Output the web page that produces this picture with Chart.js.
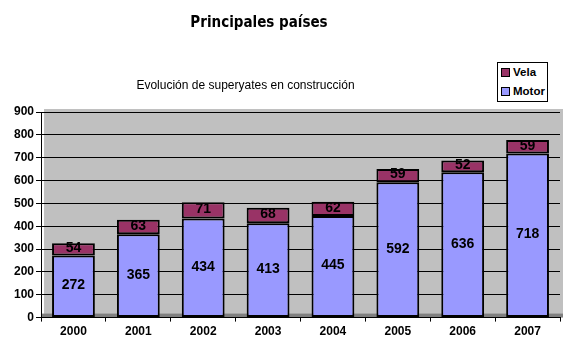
<!DOCTYPE html>
<html>
<head>
<meta charset="utf-8">
<script src="https://cdn.jsdelivr.net/npm/chart.js@4.4.0/dist/chart.umd.min.js"></script>
<style>
    body { margin: 0; background: #fff; }
    #wrap { position: relative; width: 577px; height: 352px; }
    #titulo { position: absolute; left: 0; top: 13px; width: 518px; text-align: center;
        font: bold 15px "DejaVu Sans Condensed", "DejaVu Sans", sans-serif; color: #000; }
    #subtitulo { position: absolute; left: 0; top: 78px; width: 491px; text-align: center;
        font: 12px "Liberation Sans", Arial, sans-serif; color: #000; }
    #leyenda { position: absolute; left: 497px; top: 62px; width: 49px; height: 38px;
        border: 1px solid #000; background: #fff; font: bold 11.5px "Liberation Sans", Arial, sans-serif; }
    #leyenda div { height: 19px; line-height: 19px; padding-left: 3px; white-space: nowrap; }
    #leyenda span { display: inline-block; width: 7px; height: 7px; border: 1px solid #000;
        margin-right: 3px; vertical-align: -1px; }
    canvas { position: absolute; left: 0; top: 0; }
</style>
</head>
<body>
<div id="wrap">
    <canvas id="grafica" width="577" height="352"></canvas>
    <div id="titulo">Principales países</div>
    <div id="subtitulo">Evolución de superyates en construcción</div>
    <div id="leyenda"></div>
</div>
<script>
const anios = ['2000', '2001', '2002', '2003', '2004', '2005', '2006', '2007'];
const motor = [272, 365, 434, 413, 445, 592, 636, 718];
const vela = [54, 63, 71, 68, 62, 59, 52, 59];
const colorMotor = '#9999ff';
const colorVela = '#993366';

// Fondo gris del área y suelo
const fondo = {
    id: 'fondo',
    beforeDraw(chart) {
        const a = chart.chartArea;
        const ctx = chart.ctx;
        ctx.save();
        ctx.fillStyle = '#c0c0c0';
        ctx.fillRect(a.left + 3, a.top - 3, a.right - a.left, a.bottom - a.top);
        ctx.fillStyle = '#808080';
        ctx.fillRect(a.left, a.bottom - 4, a.right - a.left + 3, 4);
        ctx.restore();
    }
};

// Etiquetas con los valores
const etiquetas = {
    id: 'etiquetas',
    afterDatasetsDraw(chart) {
        const ctx = chart.ctx;
        ctx.save();
        ctx.font = 'bold 14px "Liberation Sans", Arial, sans-serif';
        ctx.fillStyle = '#000';
        ctx.textAlign = 'center';
        ctx.textBaseline = 'middle';
        chart.data.datasets.forEach(function(ds, i) {
            chart.getDatasetMeta(i).data.forEach(function(bar, j) {
                const p = bar.getCenterPoint();
                ctx.fillText(ds.data[j], p.x, p.y - 1);
            });
        });
        ctx.restore();
    }
};

const ctx = document.getElementById('grafica').getContext('2d');
const chart = new Chart(ctx, {
    type: 'bar',
    data: {
        labels: anios,
        datasets: [{
            label: 'Motor',
            data: motor,
            backgroundColor: colorMotor,
            borderColor: '#000',
            borderWidth: 2,
            borderSkipped: false,
            barPercentage: 0.66,
            categoryPercentage: 1
        }, {
            label: 'Vela',
            data: vela,
            backgroundColor: colorVela,
            borderColor: '#000',
            borderWidth: 2,
            borderSkipped: false,
            barPercentage: 0.66,
            categoryPercentage: 1
        }]
    },
    options: {
        responsive: false,
        animation: false,
        layout: { padding: { top: 112, right: 17, bottom: 10, left: 12 } },
        plugins: {
            legend: { display: false },
            tooltip: { enabled: false }
        },
        scales: {
            x: {
                stacked: true,
                grid: { drawOnChartArea: false, color: '#000', tickLength: 4 },
                border: { color: '#000' },
                ticks: { color: '#000', padding: 3, font: { family: '"Liberation Sans", Arial', size: 12, weight: 'bold' } }
            },
            y: {
                stacked: true,
                min: 0,
                max: 900,
                ticks: { stepSize: 100, color: '#000', padding: 2, font: { family: '"Liberation Sans", Arial', size: 12, weight: 'bold' } },
                grid: { color: '#000', tickLength: 5 },
                border: { color: '#000' }
            }
        }
    },
    plugins: [fondo, etiquetas]
});

// Leyenda a partir de los datasets (Vela arriba)
const leyenda = document.getElementById('leyenda');
chart.data.datasets.slice().reverse().forEach(function(ds) {
    const fila = document.createElement('div');
    const cuadro = document.createElement('span');
    cuadro.style.background = ds.backgroundColor;
    fila.appendChild(cuadro);
    fila.appendChild(document.createTextNode(ds.label));
    leyenda.appendChild(fila);
});
</script>
</body>
</html>
